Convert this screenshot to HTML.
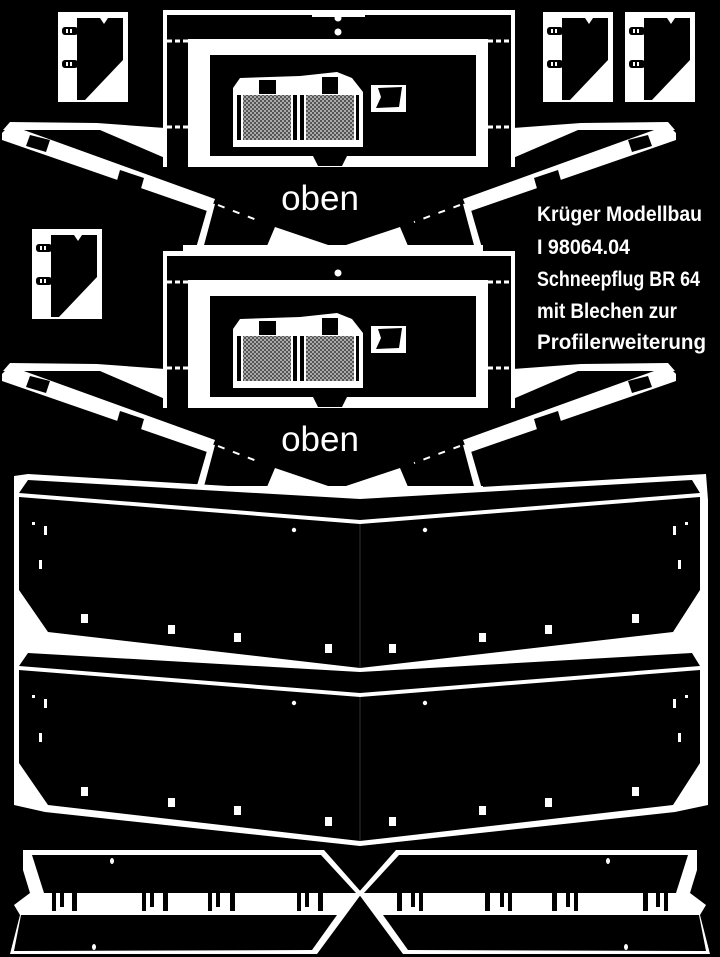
<!DOCTYPE html>
<html><head><meta charset="utf-8"><style>
html,body{margin:0;padding:0;background:#000;}
svg{display:block;}
</style></head><body>
<svg width="720" height="957" viewBox="0 0 720 957" xmlns="http://www.w3.org/2000/svg">
<defs>
<pattern id="hatch" width="4" height="4" patternUnits="userSpaceOnUse">
<rect width="4" height="4" fill="#aaa"/>
<rect width="2" height="2" fill="#555"/>
<rect x="2" y="2" width="2" height="2" fill="#555"/>
</pattern>
<g id="bracket">
<rect x="0" y="0" width="70" height="90" fill="#fff"/>
<polygon points="19,6 42,6 46,12 50,6 65,6 65,48 27,88 19,88" fill="#000"/>
<rect x="4" y="15" width="16" height="8" rx="3" fill="#000"/>
<rect x="8" y="17" width="2" height="4" fill="#fff"/><rect x="12" y="17" width="2" height="4" fill="#fff"/>
<rect x="4" y="48" width="16" height="8" rx="3" fill="#000"/>
<rect x="8" y="50" width="2" height="4" fill="#fff"/><rect x="12" y="50" width="2" height="4" fill="#fff"/>
</g>
<g id="unit">
<!-- outer outline -->
<rect x="163" y="10" width="352" height="5" fill="#fff"/>
<rect x="163" y="10" width="4" height="157" fill="#fff"/>
<rect x="511" y="10" width="4" height="157" fill="#fff"/>
<!-- dashed connections -->
<g stroke="#fff" stroke-width="3" stroke-dasharray="5 3">
<line x1="167" y1="41" x2="188" y2="41"/><line x1="167" y1="127" x2="188" y2="127"/>
<line x1="488" y1="41" x2="511" y2="41"/><line x1="488" y1="127" x2="511" y2="127"/>
</g>
<!-- inner frame -->
<rect x="188" y="39" width="300" height="128" fill="#fff"/>
<rect x="210" y="55" width="266" height="101" fill="#000"/>
<polygon points="313,156 347,156 342,166 318,166" fill="#000"/>
<rect x="199" y="147" width="2" height="8" fill="#fff"/>
<!-- grill -->
<polygon points="233,88 240,78 300,76 337,72 352,78 363,92 363,147 233,147" fill="#fff"/>
<rect x="259" y="80" width="17" height="14" fill="#000"/>
<rect x="322" y="77" width="16" height="17" fill="#000"/>
<rect x="243" y="95" width="48" height="45" fill="url(#hatch)"/>
<rect x="306" y="95" width="48" height="45" fill="url(#hatch)"/>
<g fill="#000">
<rect x="237" y="95" width="4" height="45"/><rect x="293" y="95" width="4" height="45"/>
<rect x="300" y="95" width="4" height="45"/><rect x="356" y="95" width="3" height="45"/>
</g>
<rect x="371" y="85" width="35" height="27" fill="#fff"/>
<polygon points="378,88 402,87 399,107 376,108 381,97" fill="#000"/>
<!-- arms left -->
<polygon points="3,130 10,122 97,123 165,128 165,158 100,130" fill="#fff"/>
<polygon points="2,133 10,125 215,199 210,212 2,140" fill="#fff"/>
<polygon points="209,203 215,204 203,249 196,248" fill="#fff"/>
<polygon points="30,135 50,140 46,152 26,146" fill="#000"/>
<polygon points="120,170 144,178 140,192 116,184" fill="#000"/>
<!-- arms right -->
<polygon points="675,130 668,122 581,123 513,128 513,158 578,130" fill="#fff"/>
<polygon points="676,133 668,125 463,199 468,212 676,140" fill="#fff"/>
<polygon points="469,203 463,204 475,249 482,248" fill="#fff"/>
<polygon points="648,135 628,140 632,152 652,146" fill="#000"/>
<polygon points="558,170 534,178 538,192 562,184" fill="#000"/>
<!-- base -->
<rect x="183" y="245" width="300" height="8" fill="#fff"/>
<polygon points="198,253 203,212 212,205 266,253" fill="#fff" opacity="0"/>
<polygon points="264,253 275,227 337,248 400,227 411,253" fill="#fff"/>
<g stroke="#fff" stroke-width="2" stroke-dasharray="7 9">
<line x1="218" y1="205" x2="262" y2="222"/><line x1="460" y1="205" x2="414" y2="222"/>
</g>
</g>
</defs>

<!-- brackets -->
<use href="#bracket" x="58" y="12"/>
<use href="#bracket" x="543" y="12"/>
<use href="#bracket" x="625" y="12"/>
<use href="#bracket" x="32" y="229"/>

<!-- unit 1 -->
<use href="#unit"/>
<rect x="312" y="10" width="53" height="7" fill="#fff"/>
<circle cx="338" cy="18" r="3.5" fill="#fff"/>
<circle cx="338" cy="32" r="3.5" fill="#fff"/>
<text x="320" y="210" fill="#fff" font-family="Liberation Sans, sans-serif" font-size="35" text-anchor="middle">oben</text>

<!-- unit 2 -->
<use href="#unit" y="241"/>
<circle cx="338" cy="273" r="3.5" fill="#fff"/>
<text x="320" y="451" fill="#fff" font-family="Liberation Sans, sans-serif" font-size="35" text-anchor="middle">oben</text>

<!-- title text -->
<g fill="#fff" font-family="Liberation Sans Narrow, Liberation Sans, sans-serif" font-weight="bold" font-size="21">
<text x="537" y="221" textLength="165" lengthAdjust="spacingAndGlyphs">Krüger Modellbau</text>
<text x="537" y="254" textLength="93" lengthAdjust="spacingAndGlyphs">I 98064.04</text>
<text x="537" y="286" textLength="163" lengthAdjust="spacingAndGlyphs">Schneepflug BR 64</text>
<text x="537" y="318" textLength="140" lengthAdjust="spacingAndGlyphs">mit Blechen zur</text>
<text x="537" y="349" textLength="169" lengthAdjust="spacingAndGlyphs">Profilerweiterung</text>
</g>

<!-- plates silhouette -->
<polygon points="14,476 28,474 360,494 706,474 708,500 708,805 675,812 360,846 45,812 14,805" fill="#fff"/>
<!-- plate 1 -->
<polygon points="28,480 360,499 692,480 700,493 360,520 19,493" fill="#000"/>
<polygon points="19,497 360,524 700,497 700,590 673,632 360,668 48,632 19,590" fill="#000"/>
<!-- plate 2 -->
<polygon points="28,653 360,672 692,653 700,666 360,693 19,666" fill="#000"/>
<polygon points="19,670 360,697 700,670 700,763 673,805 360,841 48,805 19,763" fill="#000"/>
<line x1="360" y1="524" x2="360" y2="668" stroke="#333" stroke-width="1"/>
<line x1="360" y1="697" x2="360" y2="841" stroke="#333" stroke-width="1"/>
<g fill="#fff" id="holes">
<rect x="44" y="526" width="3" height="9"/><rect x="673" y="526" width="3" height="9"/>
<rect x="39" y="560" width="3" height="9"/><rect x="678" y="560" width="3" height="9"/>
<circle cx="294" cy="530" r="2.2"/><circle cx="425" cy="530" r="2.2"/>
<rect x="32" y="522" width="3" height="3"/><rect x="685" y="522" width="3" height="3"/>
<rect x="81" y="614" width="7" height="9"/><rect x="168" y="625" width="7" height="9"/>
<rect x="234" y="633" width="7" height="9"/><rect x="325" y="644" width="7" height="9"/>
<rect x="389" y="644" width="7" height="9"/><rect x="479" y="633" width="7" height="9"/>
<rect x="545" y="625" width="7" height="9"/><rect x="632" y="614" width="7" height="9"/>
</g>
<use href="#holes" y="173"/>

<!-- bottom strip pieces -->
<g id="strip">
<polygon points="23,850 324,850 362,893 317,954 10,954 20,915 14,905 30,893 23,870" fill="#fff"/>
<polygon points="32,855 321,855 356,893 44,893" fill="#000"/>
<polygon points="21,915 337,915 312,950 14,951" fill="#000"/>
<g fill="#000">
<rect x="52" y="893" width="4" height="18"/><rect x="60" y="893" width="4" height="14"/><rect x="72" y="893" width="5" height="18"/>
<rect x="142" y="893" width="4" height="18"/><rect x="150" y="893" width="4" height="14"/><rect x="163" y="893" width="5" height="18"/>
<rect x="208" y="893" width="4" height="18"/><rect x="216" y="893" width="4" height="14"/><rect x="230" y="893" width="5" height="18"/>
<rect x="297" y="893" width="4" height="18"/><rect x="305" y="893" width="4" height="14"/><rect x="318" y="893" width="5" height="18"/>
</g>
<ellipse cx="112" cy="861" rx="2" ry="3" fill="#fff"/>
<ellipse cx="94" cy="947" rx="2" ry="3" fill="#fff"/>
</g>
<use href="#strip" transform="translate(720,0) scale(-1,1)"/>
</svg>
</body></html>
